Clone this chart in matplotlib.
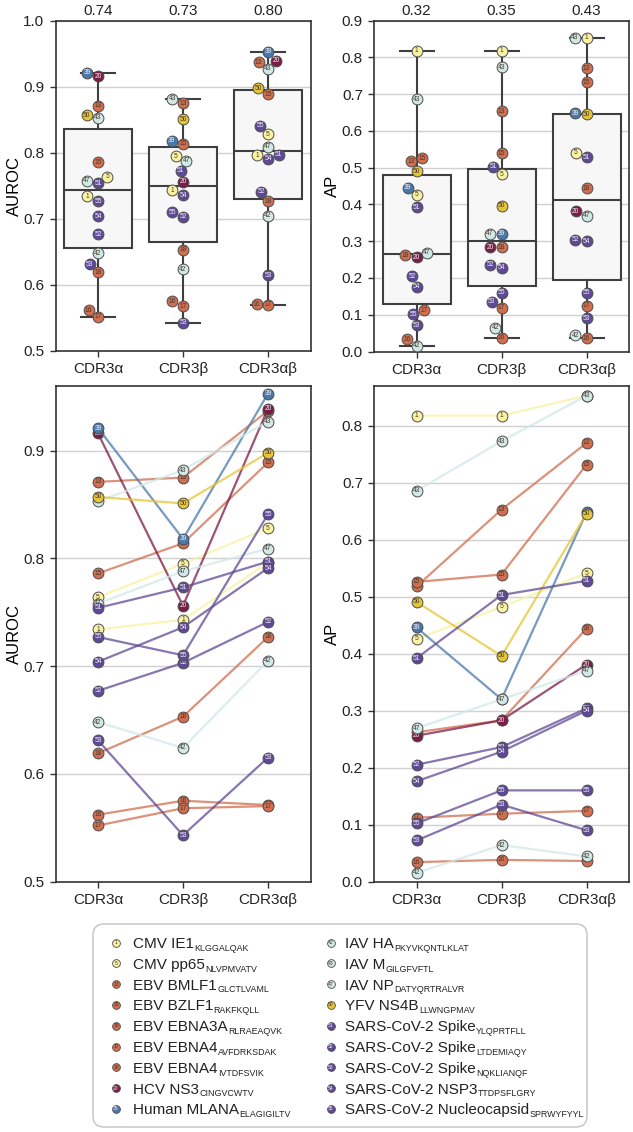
import numpy as np
import matplotlib
matplotlib.use('Agg')
import matplotlib.pyplot as plt
from matplotlib.patches import FancyBboxPatch

plt.rcParams['font.family'] = ['Liberation Sans', 'DejaVu Sans']
plt.rcParams['mathtext.default'] = 'regular'

# ---------------- data ----------------
chains = ['CDR3α', 'CDR3β', 'CDR3αβ']
epitope_ids = [1, 5, 13, 15, 16, 17, 18, 20, 39, 42, 43, 47, 50, 51, 52, 53, 54, 55]
epitope_names = ['CMV IE1', 'CMV pp65', 'EBV BMLF1', 'EBV BZLF1', 'EBV EBNA3A', 'EBV EBNA4',
                 'EBV EBNA4', 'HCV NS3', 'Human MLANA', 'IAV HA', 'IAV M', 'IAV NP', 'YFV NS4B',
                 'SARS-CoV-2 Spike', 'SARS-CoV-2 Spike', 'SARS-CoV-2 Spike', 'SARS-CoV-2 NSP3',
                 'SARS-CoV-2 Nucleocapsid']
peptides = ['KLGGALQAK', 'NLVPMVATV', 'GLCTLVAML', 'RAKFKQLL', 'RLRAEAQVK', 'AVFDRKSDAK',
            'IVTDFSVIK', 'CINGVCWTV', 'ELAGIGILTV', 'PKYVKQNTLKLAT', 'GILGFVFTL', 'DATYQRTRALVR',
            'LLWNGPMAV', 'YLQPRTFLL', 'LTDEMIAQY', 'NQKLIANQF', 'TTDPSFLGRY', 'SPRWYFYYL']

auroc_alpha = [0.734, 0.764, 0.871, 0.786, 0.562, 0.552, 0.619, 0.916, 0.921,
               0.648, 0.853, 0.758, 0.857, 0.754, 0.677, 0.631, 0.704, 0.727]
auroc_beta = [0.743, 0.795, 0.875, 0.814, 0.575, 0.568, 0.653, 0.756, 0.818,
              0.624, 0.882, 0.788, 0.851, 0.773, 0.703, 0.543, 0.736, 0.710]
auroc_alphabeta = [0.796, 0.828, 0.937, 0.889, 0.571, 0.570, 0.727, 0.939, 0.953,
                   0.705, 0.927, 0.809, 0.898, 0.797, 0.741, 0.615, 0.791, 0.841]

ap_alpha = [0.818, 0.426, 0.518, 0.526, 0.034, 0.112, 0.262, 0.256, 0.446,
            0.015, 0.686, 0.269, 0.491, 0.392, 0.205, 0.072, 0.176, 0.102]
ap_beta = [0.818, 0.482, 0.653, 0.539, 0.038, 0.119, 0.283, 0.283, 0.320,
           0.064, 0.773, 0.320, 0.396, 0.503, 0.236, 0.135, 0.228, 0.160]
ap_alphabeta = [0.853, 0.541, 0.770, 0.732, 0.036, 0.124, 0.444, 0.381, 0.648,
                0.044, 0.853, 0.370, 0.646, 0.528, 0.304, 0.090, 0.300, 0.160]

# ---------------- styling ----------------
c_cmv, c_ebv, c_hcv, c_mla = '#f8f2a2', '#d06e4f', '#7b1c45', '#4a78a9'
c_iav, c_yfv, c_sars = '#d0e8e6', '#e5c535', '#5e4995'
colors = [c_cmv, c_cmv, c_ebv, c_ebv, c_ebv, c_ebv, c_ebv, c_hcv, c_mla,
          c_iav, c_iav, c_iav, c_yfv, c_sars, c_sars, c_sars, c_sars, c_sars]
dark = {c_hcv, c_mla, c_sars}
txt_colors = ['#f2eef7' if c in dark else '#4a3a2a' for c in colors]
edge_col = '#4d4d4d'
spine_col = '#333333'
grid_col = '#d0d0d0'

W, H = 633, 1132
fig = plt.figure(figsize=(W / 100, H / 100), dpi=100)


def add_ax(x0, y0, x1, y1):
    return fig.add_axes([x0 / W, 1 - y1 / H, (x1 - x0) / W, (y1 - y0) / H])


ax_tl = add_ax(55.5, 20.7, 310.5, 351.0)
ax_tr = add_ax(374.0, 20.7, 629.0, 351.5)
ax_bl = add_ax(55.5, 386.0, 310.5, 881.5)
ax_br = add_ax(374.0, 386.0, 629.0, 881.5)


def style_ax(ax, ylim, yticks, ylabel):
    ax.set_xlim(-0.5, 2.5)
    ax.set_ylim(*ylim)
    ax.set_yticks(yticks)
    ax.set_yticklabels([f'{t:.1f}' for t in yticks])
    ax.set_xticks(range(len(chains)))
    ax.set_xticklabels(chains)
    ax.set_ylabel(ylabel, fontsize=12, labelpad=1)
    ax.tick_params(labelsize=11, length=4.5, width=1.0, color=spine_col, labelcolor='#222222')
    for s in ax.spines.values():
        s.set_color(spine_col)
        s.set_linewidth(1.2)
    ax.yaxis.grid(True, color=grid_col, lw=1.0)
    ax.set_axisbelow(True)


style_ax(ax_tl, (0.5, 1.0), [0.5, 0.6, 0.7, 0.8, 0.9, 1.0], 'AUROC')
style_ax(ax_tr, (0.0, 0.9), [0.0, 0.1, 0.2, 0.3, 0.4, 0.5, 0.6, 0.7, 0.8, 0.9], 'AP')
style_ax(ax_bl, (0.5, 0.96), [0.5, 0.6, 0.7, 0.8, 0.9], 'AUROC')
style_ax(ax_br, (0.0, 0.87), [0.0, 0.1, 0.2, 0.3, 0.4, 0.5, 0.6, 0.7, 0.8], 'AP')

MS = 7.8
FS_NUM = 4.8


def swarm_x(ax, xpos, vals, diam):
    vals = np.asarray(vals, float)
    pts = ax.transData.transform(np.column_stack([np.full(len(vals), xpos), vals]))
    x0 = pts[0, 0]
    ys = pts[:, 1]
    order = np.argsort(ys, kind='stable')
    px, py = [], []
    xs = np.empty(len(vals))
    for i in order:
        y = ys[i]
        cands = [x0]
        for a, b in zip(px, py):
            dy = y - b
            if abs(dy) < diam:
                dx = np.sqrt(diam ** 2 - dy ** 2)
                cands += [a - dx, a + dx]
        cands = sorted(cands, key=lambda c: (round(abs(c - x0), 6), c))
        chosen = cands[-1]
        for c in cands:
            if all((c - a) ** 2 + (y - b) ** 2 >= diam ** 2 - 1e-6 for a, b in zip(px, py)):
                chosen = c
                break
        xs[i] = chosen
        px.append(chosen)
        py.append(y)
    return ax.transData.inverted().transform(np.column_stack([xs, ys]))[:, 0]


def draw_box_panel(ax, series):
    ax.boxplot(series, positions=range(len(series)), widths=0.8, patch_artist=True,
               showfliers=False, whis=1.5, zorder=2, manage_ticks=False,
               boxprops=dict(facecolor='#f7f7f7', edgecolor='#3f3f3f', linewidth=1.5),
               medianprops=dict(color='#3f3f3f', linewidth=1.5),
               whiskerprops=dict(color='#3f3f3f', linewidth=1.5),
               capprops=dict(color='#3f3f3f', linewidth=1.5))
    for k, vals in enumerate(series):
        xs = swarm_x(ax, k, vals, 11.5)
        for j in range(len(vals)):
            ax.plot(xs[j], vals[j], ls='', marker='o', ms=MS, mfc=colors[j], mec=edge_col,
                    mew=0.7, zorder=3 + j * 0.01)
            ax.text(xs[j], vals[j], str(epitope_ids[j]), ha='center', va='center',
                    fontsize=FS_NUM, color=txt_colors[j], zorder=3.005 + j * 0.01)
        ax.text(k, 1.008, f'{np.mean(vals):.2f}', transform=ax.get_xaxis_transform(),
                ha='center', va='bottom', fontsize=11, color='#222222')


def draw_line_panel(ax, series):
    xk = np.arange(len(series))
    for j in range(len(epitope_ids)):
        yv = [s[j] for s in series]
        ax.plot(xk, yv, color=colors[j], lw=1.6, alpha=0.75, zorder=2 + j * 0.01)
        ax.plot(xk, yv, ls='', marker='o', ms=MS, mfc=colors[j], mec=edge_col, mew=0.7,
                zorder=2.003 + j * 0.01)
        for x, y in zip(xk, yv):
            ax.text(x, y, str(epitope_ids[j]), ha='center', va='center', fontsize=FS_NUM,
                    color=txt_colors[j], zorder=2.006 + j * 0.01)


draw_box_panel(ax_tl, [auroc_alpha, auroc_beta, auroc_alphabeta])
draw_box_panel(ax_tr, [ap_alpha, ap_beta, ap_alphabeta])
draw_line_panel(ax_bl, [auroc_alpha, auroc_beta, auroc_alphabeta])
draw_line_panel(ax_br, [ap_alpha, ap_beta, ap_alphabeta])

# ---------------- legend (laid out in pixel space of its own axes) ----------------
LX0, LY0, LX1, LY1 = 92, 923, 588, 1128
ax_leg = add_ax(LX0, LY0, LX1, LY1)
ax_leg.set_xlim(LX0, LX1)
ax_leg.set_ylim(LY1, LY0)
ax_leg.axis('off')
ax_leg.add_patch(FancyBboxPatch((LX0 + 1, LY0 + 1), LX1 - LX0 - 2, LY1 - LY0 - 2,
                                boxstyle='round,pad=0,rounding_size=11', fc='white',
                                ec='#c8c8c8', lw=1.1, clip_on=False))
renderer = fig.canvas.get_renderer()
inv = ax_leg.transData.inverted()
n_rows = 9
row0, row_step = 942.5, 20.8
col_marker_x = [116, 331]
col_text_x = [133, 345]
for i in range(len(epitope_ids)):
    col, row = divmod(i, n_rows)
    yy = row0 + row * row_step
    ax_leg.plot(col_marker_x[col], yy, ls='', marker='o', ms=5.6, mfc=colors[i], mec=edge_col,
                mew=0.6, clip_on=False)
    ax_leg.text(col_marker_x[col], yy, str(epitope_ids[i]), ha='center', va='center',
                fontsize=3.6, color=txt_colors[i], clip_on=False)
    t = ax_leg.text(col_text_x[col], yy + 5.5, epitope_names[i], ha='left', va='baseline',
                    fontsize=11, color='#222222', clip_on=False)
    bb = t.get_window_extent(renderer)
    xend = inv.transform((bb.x1, bb.y0))[0]
    ax_leg.text(xend + 0.3, yy + 8.3, peptides[i], ha='left', va='baseline',
                fontsize=6.4, color='#222222', clip_on=False)

fig.savefig('out.png', dpi=100)
